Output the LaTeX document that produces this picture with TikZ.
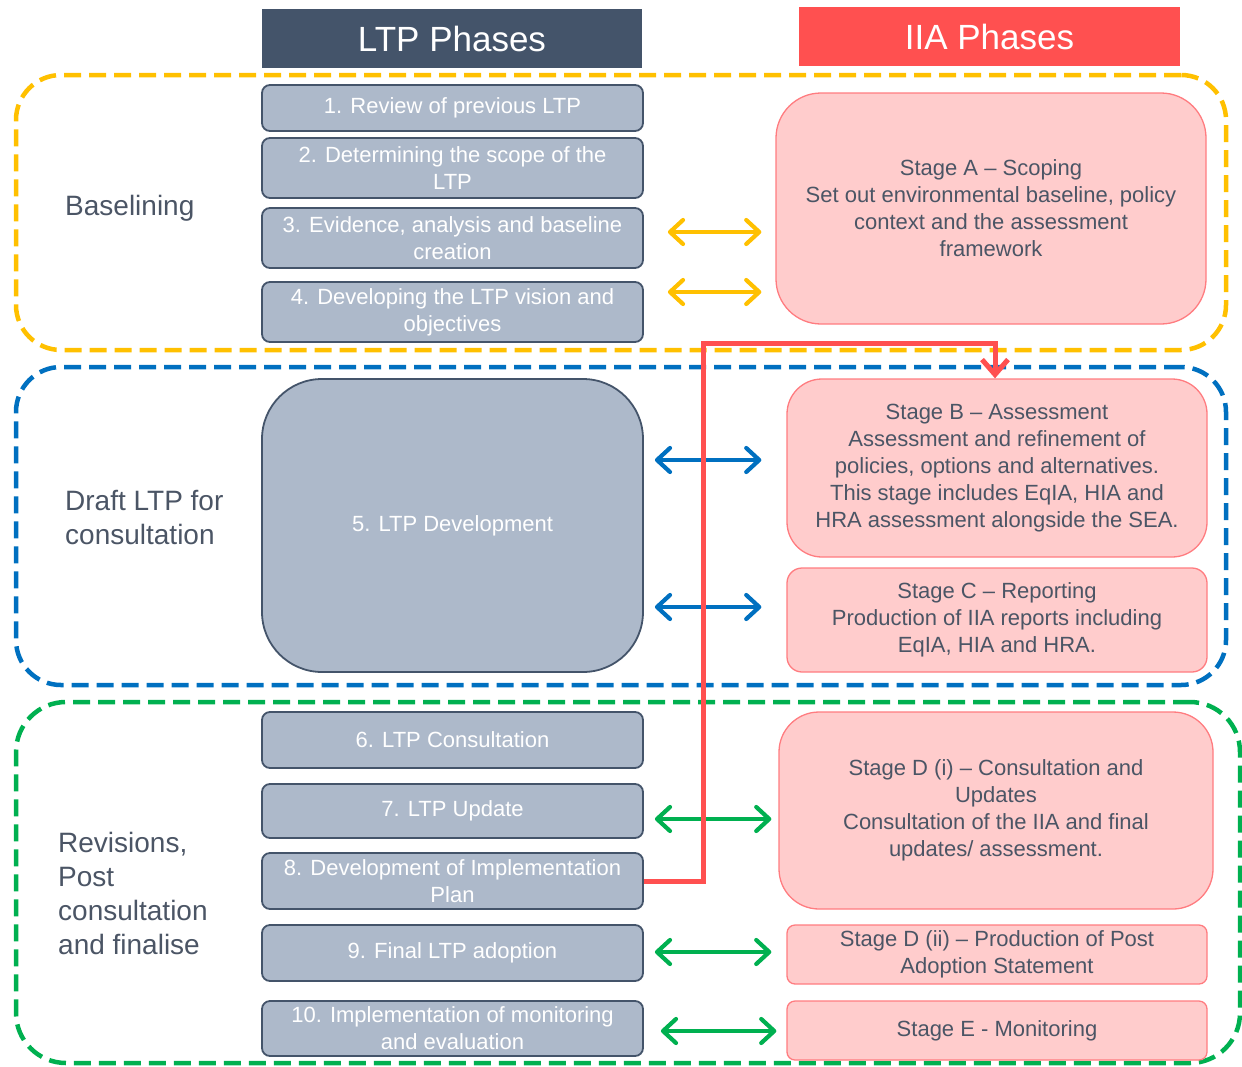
\documentclass[tikz,border=0pt]{standalone}
\usepackage{fontspec}
\setmainfont{Liberation Sans}
\usetikzlibrary{arrows.meta}
\definecolor{hdark}{HTML}{44546A}
\definecolor{ltpfill}{HTML}{ADB9CA}
\definecolor{iiafill}{HTML}{FFCCCC}
\definecolor{iiaborder}{HTML}{FF7C80}
\definecolor{hred}{HTML}{FF5050}
\definecolor{cyel}{HTML}{FFC000}
\definecolor{cblue}{HTML}{0070C0}
\definecolor{cgreen}{HTML}{00B050}
\definecolor{labeltext}{HTML}{4B5565}
\begin{document}
\begin{tikzpicture}[x=1pt,y=-1pt,
  header/.style={inner sep=0pt, text=white, font=\fontsize{35}{40}\selectfont},
  ltpbox/.style={draw=hdark, line width=1.8pt, fill=ltpfill, rounded corners=8pt, inner sep=0pt,
     minimum width=381pt, text=white, align=center, font=\fontsize{22}{27}\selectfont},
  iiabox/.style={draw=iiaborder, line width=1.3pt, fill=iiafill, inner sep=0pt,
     text=labeltext, align=center, font=\fontsize{22}{27}\selectfont},
  frame/.style={dash pattern=on 17pt off 8pt, line width=4.5pt, rounded corners=45pt, inner sep=0pt},
  sidelabel/.style={anchor=west, align=left, inner sep=0pt, text=labeltext, font=\fontsize{28}{34}\selectfont},
  dbl/.style={{Straight Barb[round,length=13pt,width=24pt]}-{Straight Barb[round,length=13pt,width=24pt]}, line width=4.2pt, line cap=round},
  redline/.style={draw=hred, line width=5pt, -{Straight Barb[length=15pt,width=26pt]}}
]
\useasboundingbox (0,0) rectangle (1242,1066);
% frames
\node[frame, draw=cyel, minimum width=1210pt, minimum height=275pt] (fy) at (621,212.5) {};
\node[frame, draw=cblue, minimum width=1210pt, minimum height=318pt] (fb) at (621,526) {};
\node[frame, draw=cgreen, minimum width=1224pt, minimum height=361pt, rounded corners=50pt] (fg) at (628,882.5) {};
% headers
\node[header, fill=hdark, minimum width=380pt, minimum height=59pt] (hl) at (452,38.5) {LTP Phases};
\node[header, fill=hred, minimum width=381pt, minimum height=59pt] (hi) at (989.5,36.5) {IIA Phases};
% side labels
\node[sidelabel] (s1) at (65,208) {Baselining};
\node[sidelabel] (s2) at (65,517) {Draft LTP for\\consultation};
\node[sidelabel] (s3) at (58,893.5) {Revisions,\\Post\\consultation\\and finalise};
% LTP boxes
\node[ltpbox, minimum height=46pt] (l1) at (452.5,108) {1. Review of previous LTP};
\node[ltpbox, minimum height=60pt] (l2) at (452.5,168) {2. Determining the scope of the\\LTP};
\node[ltpbox, minimum height=60pt] (l3) at (452.5,238) {3. Evidence, analysis and baseline\\creation};
\node[ltpbox, minimum height=60pt] (l4) at (452.5,312) {4. Developing the LTP vision and\\objectives};
\node[ltpbox, minimum height=293pt, rounded corners=60pt] (l5) at (452.5,525.5) {5. LTP Development};
\node[ltpbox, minimum height=56pt] (l6) at (452.5,740) {6. LTP Consultation};
\node[ltpbox, minimum height=54pt] (l7) at (452.5,811) {7. LTP Update};
\node[ltpbox, minimum height=56pt] (l8) at (452.5,881) {8. Development of Implementation\\Plan};
\node[ltpbox, minimum height=56pt] (l9) at (452.5,953) {9. Final LTP adoption};
\node[ltpbox, minimum height=55pt] (l10) at (452.5,1028.5) {10. Implementation of monitoring\\and evaluation};
% IIA boxes
\node[iiabox, minimum width=430pt, minimum height=231pt, rounded corners=45pt] (A) at (991,208.5)
  {Stage A – Scoping\\Set out environmental baseline, policy\\context and the assessment\\framework};
\node[iiabox, minimum width=420pt, minimum height=178pt, rounded corners=35pt] (B) at (997,468)
  {Stage B – Assessment\\Assessment and refinement of\\policies, options and alternatives.\\This stage includes EqIA, HIA and\\HRA assessment alongside the SEA.};
\node[iiabox, minimum width=420pt, minimum height=104pt, rounded corners=15pt] (C) at (997,620)
  {Stage C – Reporting\\Production of IIA reports including\\EqIA, HIA and HRA.};
\node[iiabox, minimum width=434pt, minimum height=197pt, rounded corners=40pt] (D1) at (996,810.5)
  {Stage D (i) – Consultation and\\Updates\\Consultation of the IIA and final\\updates/ assessment.};
\node[iiabox, minimum width=420pt, minimum height=59pt, rounded corners=8pt] (D2) at (997,954.5)
  {Stage D (ii) – Production of Post\\Adoption Statement};
\node[iiabox, minimum width=420pt, minimum height=59pt, rounded corners=8pt] (E) at (997,1030.5)
  {Stage E - Monitoring};
% arrows
\draw[dbl, cyel, shorten <=24pt, shorten >=14pt] ([yshift=6pt]l3.east) -- ([yshift=6pt]l3.east -| A.west);
\draw[dbl, cyel, shorten <=24pt, shorten >=14pt] ([yshift=20pt]l4.east) -- ([yshift=20pt]l4.east -| A.west);
\draw[dbl, cblue, shorten <=11pt, shorten >=25pt] ([yshift=65.5pt]l5.east) -- ([yshift=65.5pt]l5.east -| B.west);
\draw[dbl, cblue, shorten <=11pt, shorten >=25pt] ([yshift=-81.5pt]l5.east) -- ([yshift=-81.5pt]l5.east -| C.west);
\draw[dbl, cgreen, shorten <=11pt, shorten >=7pt] ([yshift=-8pt]l7.east) -- ([yshift=-8pt]l7.east -| D1.west);
\draw[dbl, cgreen, shorten <=11pt, shorten >=15pt] ([yshift=1pt]l9.east) -- ([yshift=1pt]l9.east -| D2.west);
\draw[dbl, cgreen, shorten <=17pt, shorten >=10pt] ([yshift=-2.5pt]l10.east) -- ([yshift=-2.5pt]l10.east -| E.west);
% red connector
\coordinate (rb) at (703,343);
\draw[redline] (l8.east) -| (rb) -| ([xshift=-2pt]B.north);
\end{tikzpicture}
\end{document}
